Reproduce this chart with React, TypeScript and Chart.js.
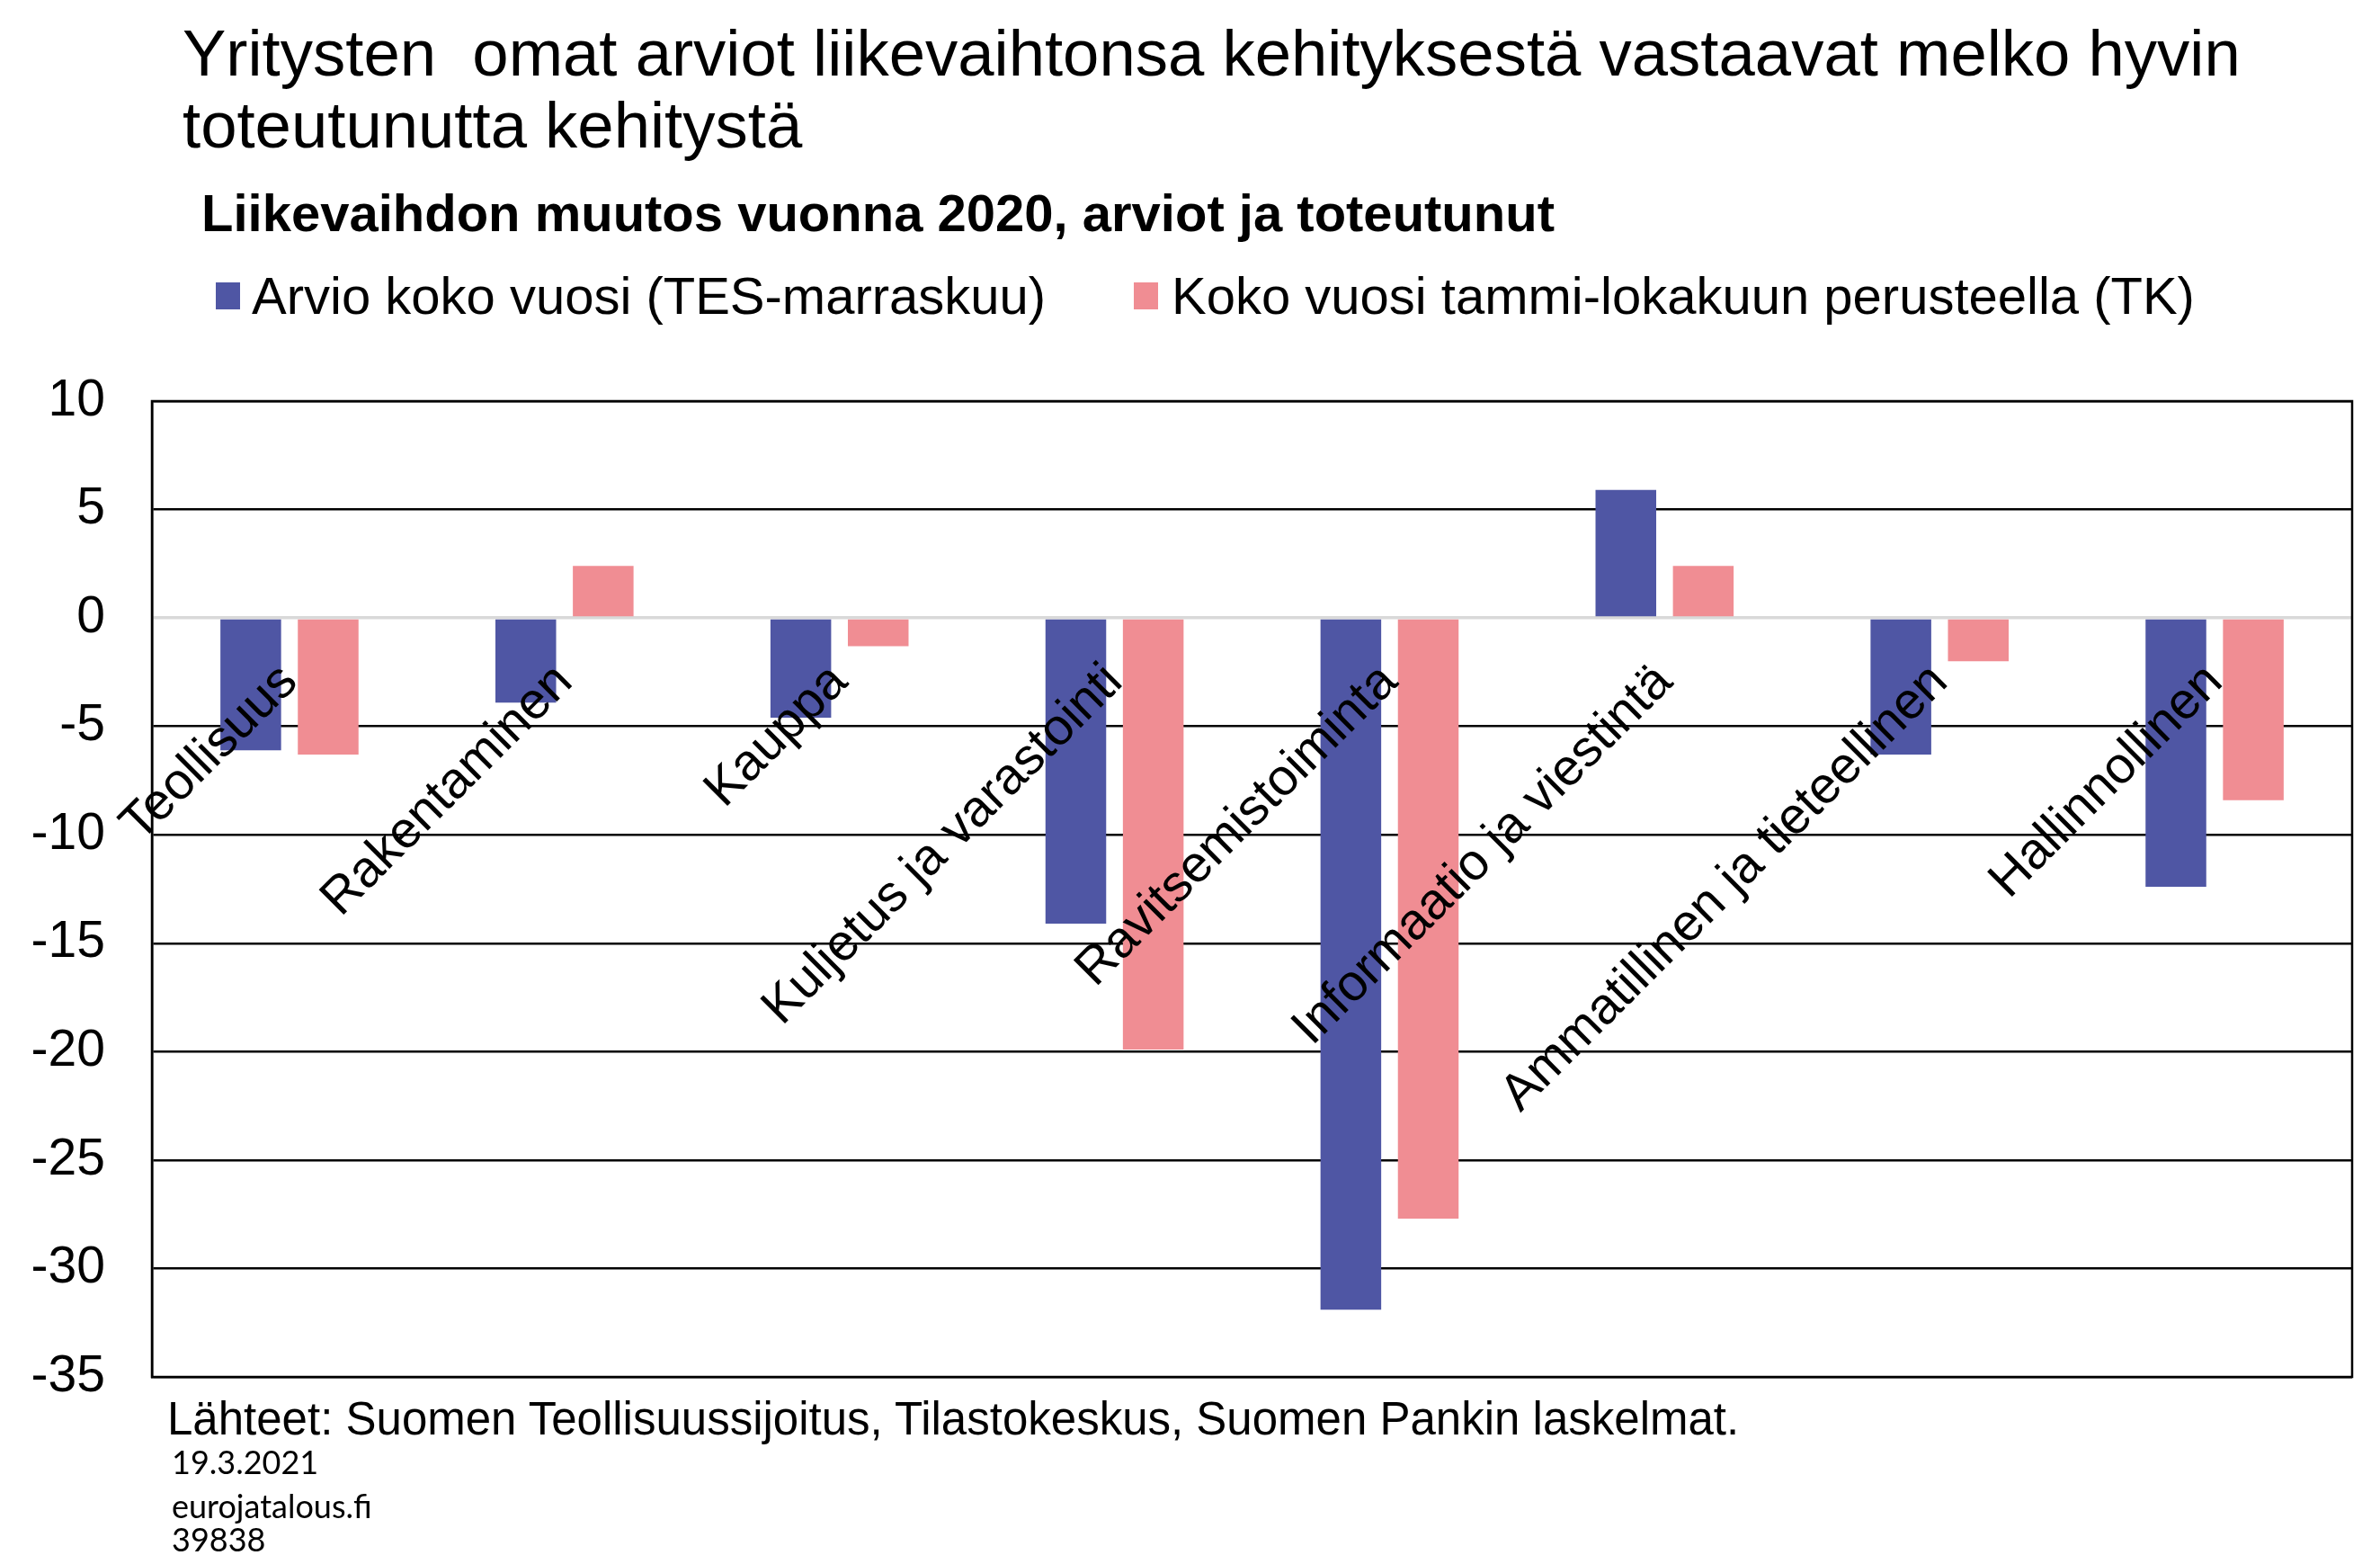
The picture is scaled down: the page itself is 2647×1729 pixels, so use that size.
import { useEffect, useRef } from 'react'
import { Chart, registerables } from 'chart.js'
import type { Chart as ChartJS, Plugin } from 'chart.js'

Chart.register(...registerables)

// Toimialat (x-akseli)
const categories = [
  'Teollisuus',
  'Rakentaminen',
  'Kauppa',
  'Kuljetus ja varastointi',
  'Ravitsemistoiminta',
  'Informaatio ja viestintä',
  'Ammatillinen ja tieteellinen',
  'Hallinnollinen',
]

// Arvio koko vuosi (TES-marraskuu)
const arvioValues = [-6.1, -3.9, -4.6, -14.1, -31.9, 5.9, -6.3, -12.4]

// Koko vuosi tammi-lokakuun perusteella (TK)
const toteutunutValues = [-6.3, 2.4, -1.3, -19.9, -27.7, 2.4, -2.0, -8.4]

const seriesLabels = [
  'Arvio koko vuosi (TES-marraskuu)',
  'Koko vuosi tammi-lokakuun perusteella (TK)',
]

const yMin = -35
const yMax = 10
const yStep = 5

const BLUE = '#4F56A4'
const PINK = '#F08D93'
const FONT = "'Liberation Sans', Arial, sans-serif"

// draws the black frame around the plot area
const framePlugin: Plugin<'bar'> = {
  id: 'frame',
  afterDraw(chart) {
    const { ctx, chartArea } = chart
    ctx.save()
    ctx.strokeStyle = '#000'
    ctx.lineWidth = 2.5
    ctx.strokeRect(chartArea.left, chartArea.top, chartArea.right - chartArea.left, chartArea.bottom - chartArea.top)
    ctx.restore()
  },
}

const textStyle = {
  position: 'absolute' as const,
  fontFamily: FONT,
  color: '#000',
  whiteSpace: 'pre' as const,
  margin: 0,
}

export default function App() {
  const chartRef = useRef<HTMLCanvasElement>(null)
  const chartInstance = useRef<ChartJS | null>(null)

  useEffect(() => {
    if (!chartRef.current) return
    if (chartInstance.current) chartInstance.current.destroy()
    const ctx = chartRef.current.getContext('2d')
    if (!ctx) return

    chartInstance.current = new Chart(ctx, {
      type: 'bar',
      data: {
        labels: categories,
        datasets: [
          {
            label: seriesLabels[0],
            data: arvioValues,
            backgroundColor: BLUE,
            categoryPercentage: 0.563,
            barPercentage: 0.784,
          },
          {
            label: seriesLabels[1],
            data: toteutunutValues,
            backgroundColor: PINK,
            categoryPercentage: 0.563,
            barPercentage: 0.784,
          },
        ],
      },
      options: {
        responsive: true,
        maintainAspectRatio: false,
        animation: false,
        layout: {
          padding: { top: 46, bottom: 49, right: 31, left: 0 },
        },
        plugins: {
          legend: { display: false },
          tooltip: { enabled: false },
          title: { display: false },
        },
        scales: {
          x: {
            type: 'category',
            position: { y: 0 },
            grid: { display: false },
            border: { display: false },
            ticks: {
              z: 1,
              color: '#000',
              font: { family: FONT, size: 57 },
              minRotation: 45,
              maxRotation: 45,
              autoSkip: false,
              padding: 30,
            },
          },
          y: {
            min: yMin,
            max: yMax,
            position: 'left',
            afterFit: (scale) => {
              scale.width = 169
              scale.paddingTop = 0
              scale.paddingBottom = 0
            },
            grid: {
              drawTicks: false,
              color: (c) => (c.tick && c.tick.value === 0 ? '#D9D9D9' : '#000'),
              lineWidth: (c) => (c.tick && c.tick.value === 0 ? 3.5 : 2.5),
            },
            border: { display: true, color: '#000', width: 2.5 },
            ticks: {
              stepSize: yStep,
              color: '#000',
              padding: 52,
              font: { family: FONT, size: 57 },
            },
          },
        },
      },
      plugins: [framePlugin],
    })

    return () => {
      if (chartInstance.current) {
        chartInstance.current.destroy()
        chartInstance.current = null
      }
    }
  }, [])

  return (
    <div
      style={{
        position: 'fixed',
        left: 0,
        top: 0,
        width: 2647,
        height: 1729,
        background: '#fff',
        overflow: 'hidden',
      }}
    >
      <div style={{ position: 'absolute', left: 0, top: 400, width: 2647, height: 1180 }}>
        <canvas ref={chartRef}></canvas>
      </div>

      <div style={{ ...textStyle, left: 203, top: 19, fontSize: 72.5, lineHeight: '80px' }}>
        {'Yritysten  omat arviot liikevaihtonsa kehityksestä vastaavat melko hyvin\ntoteutunutta kehitystä'}
      </div>

      <div style={{ ...textStyle, left: 224, top: 208, fontSize: 58, lineHeight: 1, fontWeight: 'bold' }}>
        Liikevaihdon muutos vuonna 2020, arviot ja toteutunut
      </div>

      <div style={{ position: 'absolute', left: 240, top: 314, width: 27, height: 30, background: BLUE }} />
      <div style={{ ...textStyle, left: 280, top: 300, fontSize: 58, lineHeight: 1 }}>{seriesLabels[0]}</div>
      <div style={{ position: 'absolute', left: 1261, top: 314, width: 27, height: 30, background: PINK }} />
      <div style={{ ...textStyle, left: 1303, top: 300, fontSize: 58, lineHeight: 1 }}>{seriesLabels[1]}</div>

      <div style={{ ...textStyle, left: 186, top: 1552, fontSize: 51, lineHeight: 1 }}>
        Lähteet: Suomen Teollisuussijoitus, Tilastokeskus, Suomen Pankin laskelmat.
      </div>
      <div style={{ ...textStyle, fontFamily: 'Lato, sans-serif', left: 191, top: 1607, fontSize: 36, lineHeight: 1 }}>
        19.3.2021
      </div>
      <div style={{ ...textStyle, fontFamily: 'Lato, sans-serif', left: 191, top: 1656, fontSize: 36, lineHeight: 1 }}>
        eurojatalous.fi
      </div>
      <div style={{ ...textStyle, fontFamily: 'Lato, sans-serif', left: 191, top: 1693, fontSize: 36, lineHeight: 1 }}>
        39838
      </div>
    </div>
  )
}
